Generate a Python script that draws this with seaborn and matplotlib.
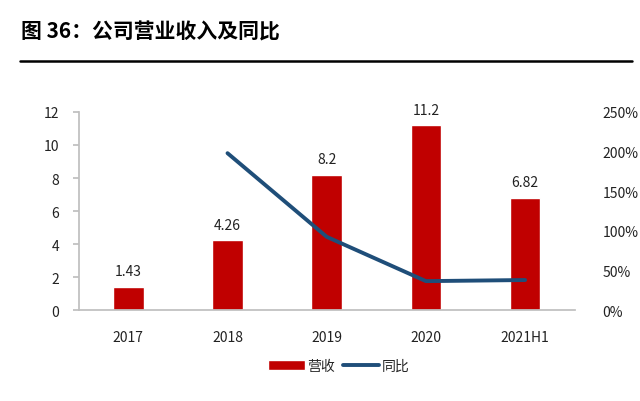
import seaborn as sns
import pandas as pd
import matplotlib
matplotlib.use('Agg')
import matplotlib.pyplot as plt
from matplotlib.ticker import FuncFormatter

years = ['2017', '2018', '2019', '2020', '2021H1']
revenue = [1.43, 4.26, 8.2, 11.2, 6.82]
yoy_years = ['2018', '2019', '2020', '2021H1']
yoy = [1.98, 0.925, 0.366, 0.38]

sns.set_theme(style='white')
plt.rcParams['font.family'] = ['Noto Sans CJK SC', 'DejaVu Sans']

df = pd.DataFrame({'year': years, 'rev': revenue})
df_yoy = pd.DataFrame({'pos': [years.index(y) for y in yoy_years], 'yoy': yoy})

f = plt.figure(figsize=(6.4, 4.02), dpi=100)
ax = f.add_axes([0.123, 0.226, 0.775, 0.493])

sns.barplot(data=df, x='year', y='rev', color='#C00000', saturation=1, width=0.31, ax=ax, label='营收')
for i, v in enumerate(revenue):
    ax.text(i, v + 0.5, f'{v:g}', ha='center', va='bottom', fontsize=10, color='#222222')

ax.set_ylim(0, 12)
ax.set_yticks(range(0, 13, 2))
ax.set_xlim(-0.5, 4.5)
ax.set_xlabel('')
ax.set_ylabel('')
for s in ['top', 'right']:
    ax.spines[s].set_visible(False)
ax.spines['left'].set_color('#BFBFBF')
ax.spines['bottom'].set_color('#BFBFBF')
ax.tick_params(axis='y', left=True, length=4, color='#BFBFBF', labelsize=10, labelcolor='#222222', pad=10)
ax.tick_params(axis='x', bottom=False, labelsize=10, labelcolor='#222222', pad=8)

ax2 = ax.twinx()
sns.lineplot(data=df_yoy, x='pos', y='yoy', color='#1F4E79', linewidth=2.8, ax=ax2, label='同比')
ax2.set_ylim(0, 2.5)
ax2.set_yticks([0, 0.5, 1.0, 1.5, 2.0, 2.5])
ax2.yaxis.set_major_formatter(FuncFormatter(lambda v, p: f'{v*100:.0f}%'))
ax2.set_ylabel('')
for s in ['top', 'right', 'left', 'bottom']:
    ax2.spines[s].set_visible(False)
ax2.tick_params(axis='y', right=False, labelsize=10, labelcolor='#222222', pad=14)

h1, l1 = ax.get_legend_handles_labels()
h2, l2 = ax2.get_legend_handles_labels()
if ax.get_legend() is not None:
    ax.get_legend().remove()
if ax2.get_legend() is not None:
    ax2.get_legend().remove()
f.legend(h1 + h2, l1 + l2, loc='center', bbox_to_anchor=(0.53, 0.087), ncol=2, frameon=False,
         fontsize=10, handlelength=2.6, handleheight=0.7, columnspacing=0.6, handletextpad=0.2)

f.text(0.033, 0.92, '图 36：公司营业收入及同比', fontsize=15, fontweight='bold', color='black', va='center')
f.add_artist(plt.Line2D([0.031, 0.988], [0.845, 0.845], color='black', linewidth=1.8, transform=f.transFigure))

plt.savefig('out.png', dpi=100)
